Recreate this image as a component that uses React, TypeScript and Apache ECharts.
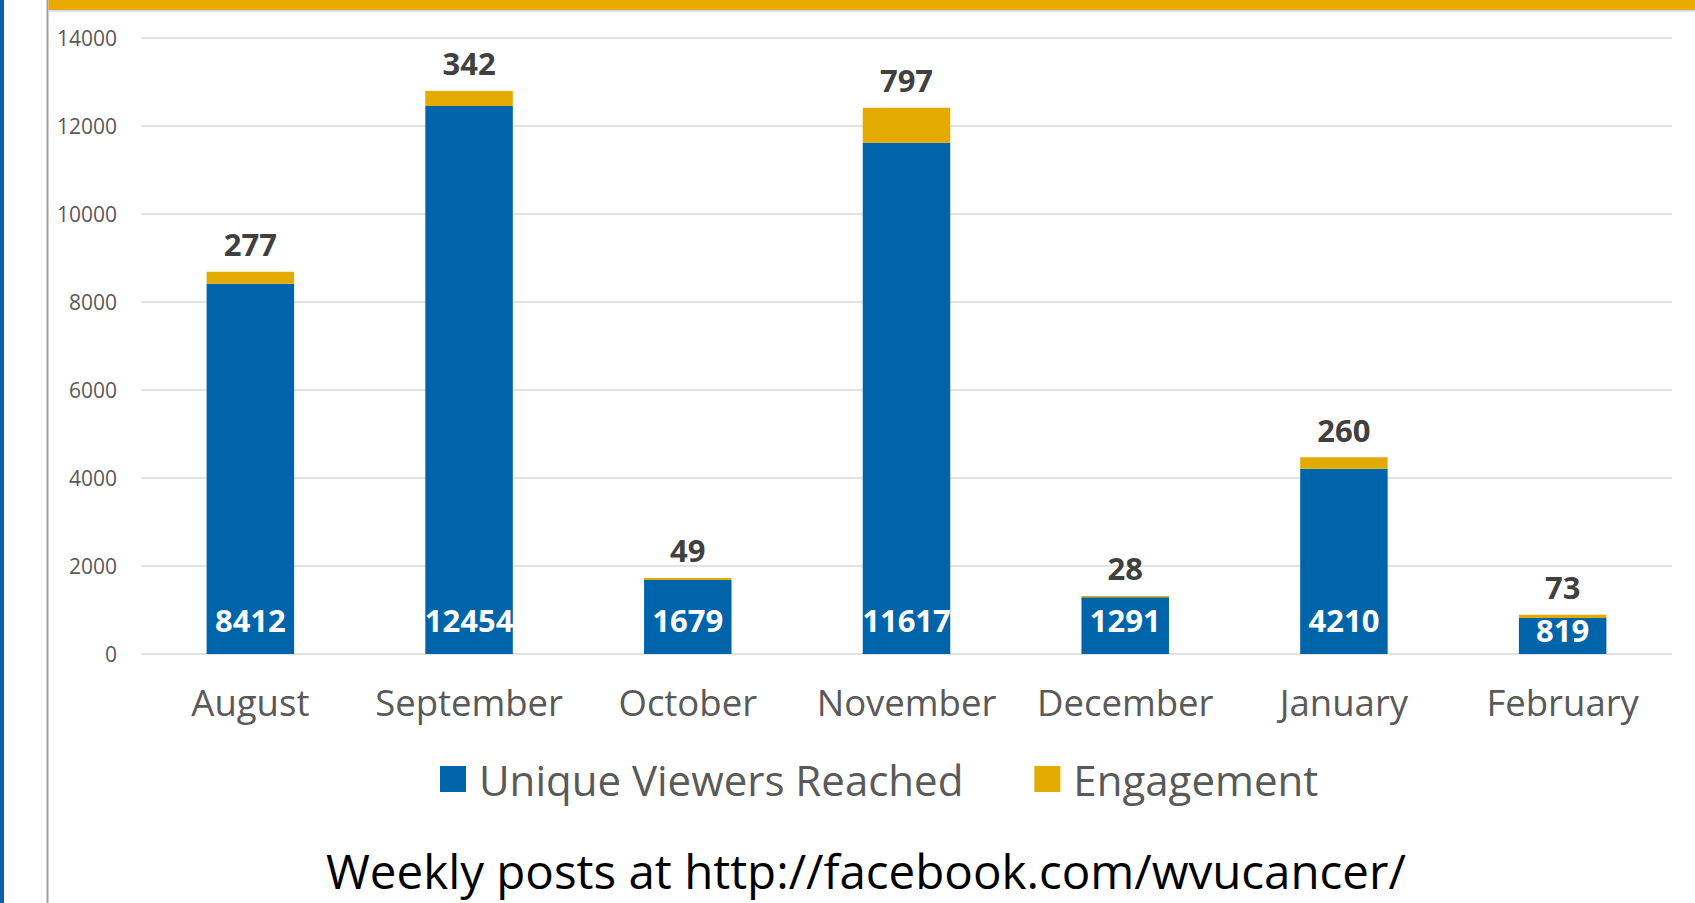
import React, { useEffect, useRef } from "react";
import * as echarts from "echarts";

const months = ["August", "September", "October", "November", "December", "January", "February"];
const uniqueViewers = [8412, 12454, 1679, 11617, 1291, 4210, 819];
const engagement = [277, 342, 49, 797, 28, 260, 73];
const yTicks = { min: 0, max: 14000, interval: 2000 };
const footer = "Weekly posts at http://facebook.com/wvucancer/";

const BLUE = "#0064AA";
const GOLD = "#E3AA00";
const FONT = "'Open Sans', sans-serif";

export default function App() {
  const ref = useRef<HTMLDivElement>(null);
  useEffect(() => {
    if (!ref.current) return;
    const chart = echarts.init(ref.current, undefined, { renderer: "svg" });
    // short bars get their inside label nearer the base, as in the source
    const uniqueData = uniqueViewers.map((v) =>
      v < 1000 ? { value: v, label: { distance: 9 } } : { value: v }
    );
    chart.setOption({
      animation: false,
      backgroundColor: "#ffffff",
      textStyle: { fontFamily: FONT },
      title: {
        text: footer,
        left: 326,
        top: 846,
        padding: 0,
        textStyle: {
          fontFamily: FONT,
          fontSize: 47.5,
          lineHeight: 48,
          fontWeight: "normal",
          color: "#000000",
        },
      },
      legend: {
        left: 440,
        top: 758,
        padding: 0,
        itemWidth: 26,
        itemHeight: 26,
        itemGap: 71,
        icon: "rect",
        textStyle: { fontFamily: FONT, fontSize: 42, color: "#595959", padding: [0, 0, 0, 8] },
        data: ["Unique Viewers Reached", "Engagement"],
      },
      grid: { left: 141, right: 23, top: 38, bottom: 249, containLabel: false },
      xAxis: {
        type: "category",
        data: months,
        axisLine: { show: false },
        axisTick: { show: false },
        axisLabel: { interval: 0, fontFamily: FONT, fontSize: 36.5, color: "#595959", margin: 29 },
      },
      yAxis: {
        type: "value",
        min: yTicks.min,
        max: yTicks.max,
        interval: yTicks.interval,
        axisLine: { show: false },
        axisTick: { show: false },
        axisLabel: {
          fontFamily: FONT,
          fontSize: 21,
          color: "#595959",
          margin: 24,
          formatter: (v: number) => String(v),
        },
        splitLine: { lineStyle: { color: "#D9D9D9", width: 1.6 } },
      },
      series: [
        {
          name: "Unique Viewers Reached",
          type: "bar",
          stack: "total",
          barWidth: "40%",
          itemStyle: { color: BLUE },
          data: uniqueData,
          label: {
            show: true,
            position: "insideBottom",
            distance: 19,
            fontFamily: FONT,
            fontSize: 31,
            fontWeight: "bold",
            color: "#ffffff",
          },
        },
        {
          name: "Engagement",
          type: "bar",
          stack: "total",
          barWidth: "40%",
          itemStyle: { color: GOLD },
          data: engagement,
          label: {
            show: true,
            position: "top",
            distance: 12,
            fontFamily: FONT,
            fontSize: 31,
            fontWeight: "bold",
            color: "#404040",
          },
        },
      ],
      graphic: [
        { type: "rect", shape: { x: 0, y: 0, width: 4, height: 903 }, style: { fill: "#0A5FA8" }, silent: true },
        { type: "rect", shape: { x: 46.5, y: 0, width: 2, height: 903 }, style: { fill: "#A59D97" }, silent: true },
        { type: "rect", shape: { x: 48.5, y: 0, width: 1647, height: 10 }, style: { fill: "#EBAA00" }, silent: true },
        { type: "rect", shape: { x: 48.5, y: 10, width: 1647, height: 1.5 }, style: { fill: "#D4D0F2" }, silent: true },
      ],
    });
    return () => chart.dispose();
  }, []);
  return (
    <div
      ref={ref}
      style={{ position: "absolute", left: 0, top: 0, width: 1695, height: 903, background: "#fff" }}
    />
  );
}
